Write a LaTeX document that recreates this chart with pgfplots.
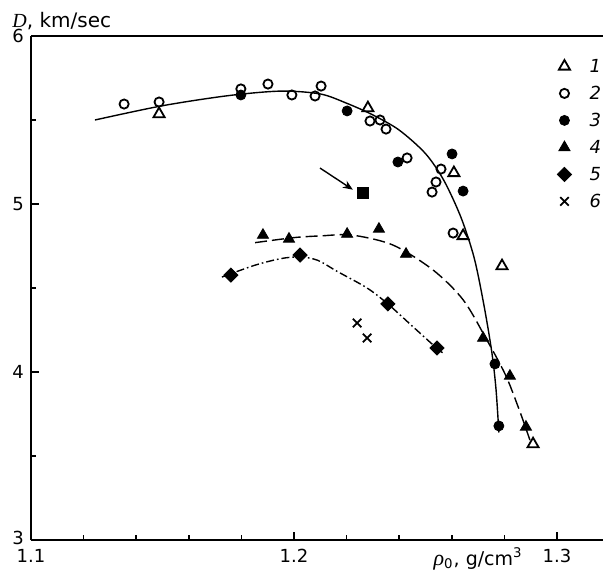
\documentclass[border=0pt]{standalone}
\usepackage{fontspec}
\setmainfont{DejaVu Sans}
\newfontfamily\serifit{Liberation Serif}
\usepackage{pgfplots}
\pgfplotsset{compat=1.18}
\usetikzlibrary{arrows.meta}

\begin{document}
\begin{tikzpicture}
\begin{axis}[
  scale only axis,
  width=286pt, height=252pt,
  xmin=1.1, xmax=1.3175,
  ymin=3, ymax=6,
  axis x line*=box, axis y line*=left,
  axis line style={-, line width=1pt},
  xtick={1.1,1.2,1.3}, minor x tick num=4,
  ytick={3,4,5,6}, minor y tick num=1,
  xtick pos=bottom, ytick pos=left,
  tick align=inside,
  major tick length=4pt, minor tick length=2.5pt,
  tick style={line width=0.8pt, black},
  xticklabels={1.1,1.2,1.3},
  yticklabels={\raisebox{2.5pt}{3},4,5,6},
  tick label style={font=\fontsize{9}{10}\selectfont},
  xticklabel style={yshift=-1pt},
  clip=false,
  legend style={draw=none, fill=none, inner sep=0pt,
    at={(axis cs:1.3,5.872)}, anchor=north west,
    font=\fontsize{9}{10}\selectfont\itshape,
    row sep=5pt,
    nodes={inner sep=1pt, text height=6.5pt, text depth=0pt},
    /tikz/every odd column/.append style={column sep=8pt}},
  legend image code/.code={\draw[mark repeat=2,mark phase=2,#1] plot coordinates {(-0.15cm,0cm) (0cm,0cm) (0.15cm,0cm)};},
]

% fitted curves
\addplot[black, line width=0.7pt, smooth, tension=0.5, forget plot] coordinates {
  (1.1243,5.50) (1.15,5.585) (1.175,5.645) (1.195,5.672) (1.21,5.655)
  (1.22,5.60) (1.23,5.53) (1.24,5.44) (1.25,5.30) (1.257,5.14)
  (1.2635,4.92) (1.2685,4.68) (1.2722,4.40) (1.2752,4.12) (1.2768,3.90)
  (1.2779,3.64)
};
\addplot[black, line width=0.7pt, smooth, tension=0.5, dash pattern=on 6pt off 2.5pt, forget plot] coordinates {
  (1.1852,4.77) (1.20,4.80) (1.21,4.81) (1.222,4.815) (1.2376,4.756)
  (1.2529,4.607) (1.2643,4.43) (1.2730,4.20) (1.2805,3.98) (1.2860,3.76)
  (1.2897,3.595)
};
\addplot[black, line width=0.7pt, smooth, tension=0.5, dash pattern=on 4pt off 1.5pt on 0.8pt off 1.5pt, forget plot] coordinates {
  (1.1726,4.565) (1.185,4.635) (1.195,4.675) (1.2023,4.685) (1.209,4.665)
  (1.2163,4.60) (1.2278,4.50) (1.2357,4.405) (1.2452,4.27) (1.2544,4.14)
  (1.2565,4.115)
};

% 1: open triangles
\addplot[only marks, mark=triangle, mark size=3.2pt, mark options={line width=0.9pt, fill=white}] coordinates {
  (1.1487,5.536) (1.2281,5.571) (1.2608,5.185) (1.2643,4.810) (1.2791,4.631) (1.2909,3.571)
};
\addlegendentry{1}
% 2: open circles
\addplot[only marks, mark=o, mark size=2.3pt, mark options={line width=0.9pt, fill=white}] coordinates {
  (1.1354,5.595) (1.1487,5.607) (1.1798,5.685) (1.1901,5.714) (1.1992,5.649)
  (1.2080,5.643) (1.2103,5.702) (1.2289,5.494) (1.2327,5.500) (1.2350,5.446)
  (1.2430,5.274) (1.2559,5.208) (1.2540,5.131) (1.2525,5.071) (1.2605,4.827)
};
\addlegendentry{2}
% 3: filled circles
\addplot[only marks, mark=*, mark size=2.5pt, black] coordinates {
  (1.1798,5.649) (1.2202,5.554) (1.2395,5.250) (1.2601,5.298) (1.2643,5.077)
  (1.2764,4.048) (1.2779,3.679)
};
\addlegendentry{3}
% 4: filled triangles
\addplot[only marks, mark=triangle*, mark size=3.2pt, black] coordinates {
  (1.1882,4.815) (1.1981,4.792) (1.2202,4.821) (1.2323,4.851) (1.2426,4.702)
  (1.2719,4.202) (1.2821,3.976) (1.2882,3.673)
};
\addlegendentry{4}
% 5: diamonds
\addplot[only marks, mark=square*, mark size=2.5pt, mark options={rotate=45}, black] coordinates {
  (1.1760,4.577) (1.2023,4.696) (1.2357,4.405) (1.2544,4.143)
};
\addlegendentry{5}
% 6: crosses
\addplot[only marks, mark=x, mark size=3pt, mark options={line width=0.9pt}, black] coordinates {
  (1.2240,4.292) (1.2278,4.202)
};
\addlegendentry{6}

% square with arrow
\addplot[only marks, mark=square*, mark size=2.8pt, black, forget plot] coordinates {(1.2262,5.065)};
\draw[-{Stealth[length=5pt,width=4pt]}, line width=0.7pt] (axis cs:1.2099,5.214) -- (axis cs:1.2224,5.085);

% axis labels
\node[anchor=base west, inner sep=0pt, font=\fontsize{10}{12}\selectfont] at ([xshift=-9.5pt,yshift=4.5pt]rel axis cs:0,1) {{\serifit\itshape D}, km/sec};
\node[anchor=base east, inner sep=0pt, font=\fontsize{9.5}{11}\selectfont] at ([yshift=-12.5pt]axis cs:1.2871,3) {{\serifit\itshape\fontsize{11}{12}\selectfont\char"03C1}\textsubscript{0}, g/cm\textsuperscript{3}};
\end{axis}
\pgfresetboundingbox
\path[use as bounding box] ([xshift=-15.5pt,yshift=-19.5pt]current axis.south west) rectangle ([yshift=18pt]current axis.north east);
\end{tikzpicture}
\end{document}
